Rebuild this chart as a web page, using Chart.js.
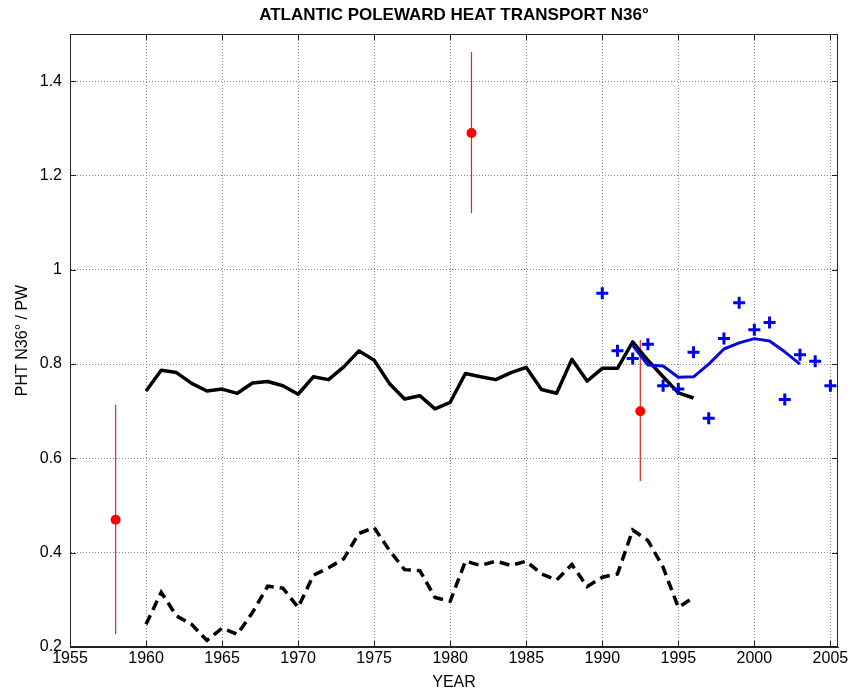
<!DOCTYPE html>
<html lang="en">
<head>
  <meta charset="UTF-8">
  <title>Atlantic poleward heat transport</title>
  <script src="https://cdn.jsdelivr.net/npm/chart.js"></script>
  <style>
    body { margin: 0; background: #fff; }
  </style>
</head>
<body>
  <canvas id="phtChart" width="850" height="695"></canvas>

  <script>
    // model years (both black curves)
    const years = [1960, 1961, 1962, 1963, 1964, 1965, 1966, 1967, 1968, 1969,
                   1970, 1971, 1972, 1973, 1974, 1975, 1976, 1977, 1978, 1979,
                   1980, 1981, 1982, 1983, 1984, 1985, 1986, 1987, 1988, 1989,
                   1990, 1991, 1992, 1993, 1994, 1995, 1996];
    const totalPht = [0.743, 0.787, 0.782, 0.759, 0.743, 0.747, 0.738, 0.760, 0.763, 0.754,
                      0.736, 0.773, 0.767, 0.794, 0.828, 0.808, 0.759, 0.726, 0.733, 0.705,
                      0.719, 0.780, 0.773, 0.767, 0.782, 0.793, 0.746, 0.738, 0.810, 0.764,
                      0.791, 0.791, 0.847, 0.808, 0.773, 0.739, 0.728];
    const dashedPht = [0.248, 0.316, 0.266, 0.248, 0.214, 0.240, 0.227, 0.273, 0.329, 0.325,
                       0.284, 0.352, 0.368, 0.387, 0.441, 0.453, 0.405, 0.364, 0.362, 0.305,
                       0.297, 0.382, 0.373, 0.382, 0.373, 0.382, 0.355, 0.342, 0.375, 0.328,
                       0.348, 0.355, 0.448, 0.426, 0.369, 0.284, 0.305];

    // blue crosses and smoothed blue curve
    const crossYears = [1990, 1991, 1992, 1993, 1994, 1995, 1996, 1997,
                        1998, 1999, 2000, 2001, 2002, 2003, 2004, 2005];
    const crossPht = [0.950, 0.828, 0.812, 0.842, 0.754, 0.747, 0.825, 0.685,
                      0.854, 0.930, 0.873, 0.888, 0.725, 0.820, 0.806, 0.754];
    const smoothYears = [1992, 1993, 1994, 1995, 1996, 1997, 1998, 1999, 2000, 2001, 2002, 2003];
    const smoothPht = [0.840, 0.798, 0.796, 0.772, 0.773, 0.800, 0.832, 0.845, 0.854, 0.849, 0.826, 0.800];

    // red estimates with error bars
    const obsYears = [1958, 1981.4, 1992.5];
    const obsPht = [0.47, 1.29, 0.70];
    const obsLow = [0.227, 1.12, 0.552];
    const obsHigh = [0.714, 1.462, 0.851];

    const xTicks = [1955, 1960, 1965, 1970, 1975, 1980, 1985, 1990, 1995, 2000, 2005];
    const yTicks = [0.2, 0.4, 0.6, 0.8, 1.0, 1.2, 1.4];

    const toPoints = (xs, ys) => xs.map((x, i) => ({ x: x, y: ys[i] }));

    const errorBars = obsYears.map((yr, i) => ({
      type: 'line',
      data: [{ x: yr, y: obsLow[i] }, { x: yr, y: obsHigh[i] }],
      borderColor: '#e02828',
      borderWidth: 1.2,
      pointRadius: 0
    }));

    // box round the axes plus inward ticks, matlab style
    const boxTicks = {
      id: 'boxTicks',
      afterDatasetsDraw(chart) {
        const { ctx, chartArea: a, scales } = chart;
        ctx.save();
        ctx.strokeStyle = '#222';
        ctx.lineWidth = 1;
        ctx.strokeRect(a.left + 0.5, a.top + 0.5, a.right - a.left - 1, a.bottom - a.top - 1);
        ctx.beginPath();
        xTicks.forEach(v => {
          const px = Math.round(scales.x.getPixelForValue(v)) + 0.5;
          ctx.moveTo(px, a.bottom); ctx.lineTo(px, a.bottom - 6);
          ctx.moveTo(px, a.top); ctx.lineTo(px, a.top + 6);
        });
        yTicks.forEach(v => {
          const py = Math.round(scales.y.getPixelForValue(v)) + 0.5;
          ctx.moveTo(a.left, py); ctx.lineTo(a.left + 6, py);
          ctx.moveTo(a.right, py); ctx.lineTo(a.right - 6, py);
        });
        ctx.stroke();
        ctx.restore();
      }
    };

    const font = { family: '"Liberation Sans", Arial, sans-serif', size: 16 };

    new Chart(document.getElementById('phtChart'), {
      type: 'line',
      data: {
        datasets: [
          {
            data: toPoints(crossYears, crossPht),
            showLine: false,
            pointStyle: 'cross',
            pointRadius: 6,
            pointBorderWidth: 3,
            pointBorderColor: '#0000f0',
            borderColor: '#0000f0'
          },
          {
            data: toPoints(obsYears, obsPht),
            showLine: false,
            pointRadius: 5,
            pointBorderWidth: 0,
            pointBackgroundColor: '#ff0000',
            borderColor: '#ff0000'
          },
          {
            data: toPoints(smoothYears, smoothPht),
            borderColor: '#0a0ad8',
            borderWidth: 3,
            pointRadius: 0,
            borderJoinStyle: 'round'
          },
          {
            data: toPoints(years, totalPht),
            borderColor: '#000',
            borderWidth: 3.5,
            pointRadius: 0,
            borderJoinStyle: 'round'
          },
          {
            data: toPoints(years, dashedPht),
            borderColor: '#000',
            borderWidth: 3.5,
            borderDash: [10, 6],
            pointRadius: 0
          },
          ...errorBars
        ]
      },
      options: {
        responsive: false,
        animation: false,
        devicePixelRatio: 1,
        layout: { autoPadding: false, padding: { left: 0, right: 12, top: 0, bottom: 0 } },
        plugins: {
          legend: { display: false },
          tooltip: { enabled: false },
          title: {
            display: true,
            fullSize: false,
            text: 'ATLANTIC POLEWARD HEAT TRANSPORT N36°',
            color: '#000',
            font: { family: font.family, size: 17, weight: 'bold', lineHeight: 1.2 },
            padding: { top: 5, bottom: 8.6 }
          }
        },
        scales: {
          x: {
            type: 'linear',
            min: 1955,
            max: 2005.5,
            afterBuildTicks: s => { s.ticks = xTicks.map(v => ({ value: v })); },
            afterFit: s => { s.height = 48; s.paddingLeft = 0; s.paddingRight = 0; },
            ticks: { color: '#000', font: font, padding: 2, maxRotation: 0, callback: v => String(v) },
            grid: { color: '#8a8a8a', drawTicks: false },
            border: { color: '#222', width: 1, dash: [1, 2] },
            title: { display: true, text: 'YEAR', color: '#000', font: font, padding: { top: 0, bottom: 2.4 } }
          },
          y: {
            type: 'linear',
            min: 0.2,
            max: 1.5,
            afterBuildTicks: s => { s.ticks = yTicks.map(v => ({ value: v })); },
            afterFit: s => { s.width = 70; s.paddingTop = 0; s.paddingBottom = 0; },
            ticks: { color: '#000', font: font, padding: 8, callback: v => String(Math.round(v * 10) / 10) },
            grid: { color: '#8a8a8a', drawTicks: false },
            border: { color: '#222', width: 1, dash: [1, 2] },
            title: { display: true, text: 'PHT N36° / PW', color: '#000', font: font, padding: { top: 13, bottom: 0 } }
          }
        }
      },
      plugins: [boxTicks]
    });
  </script>
</body>
</html>
